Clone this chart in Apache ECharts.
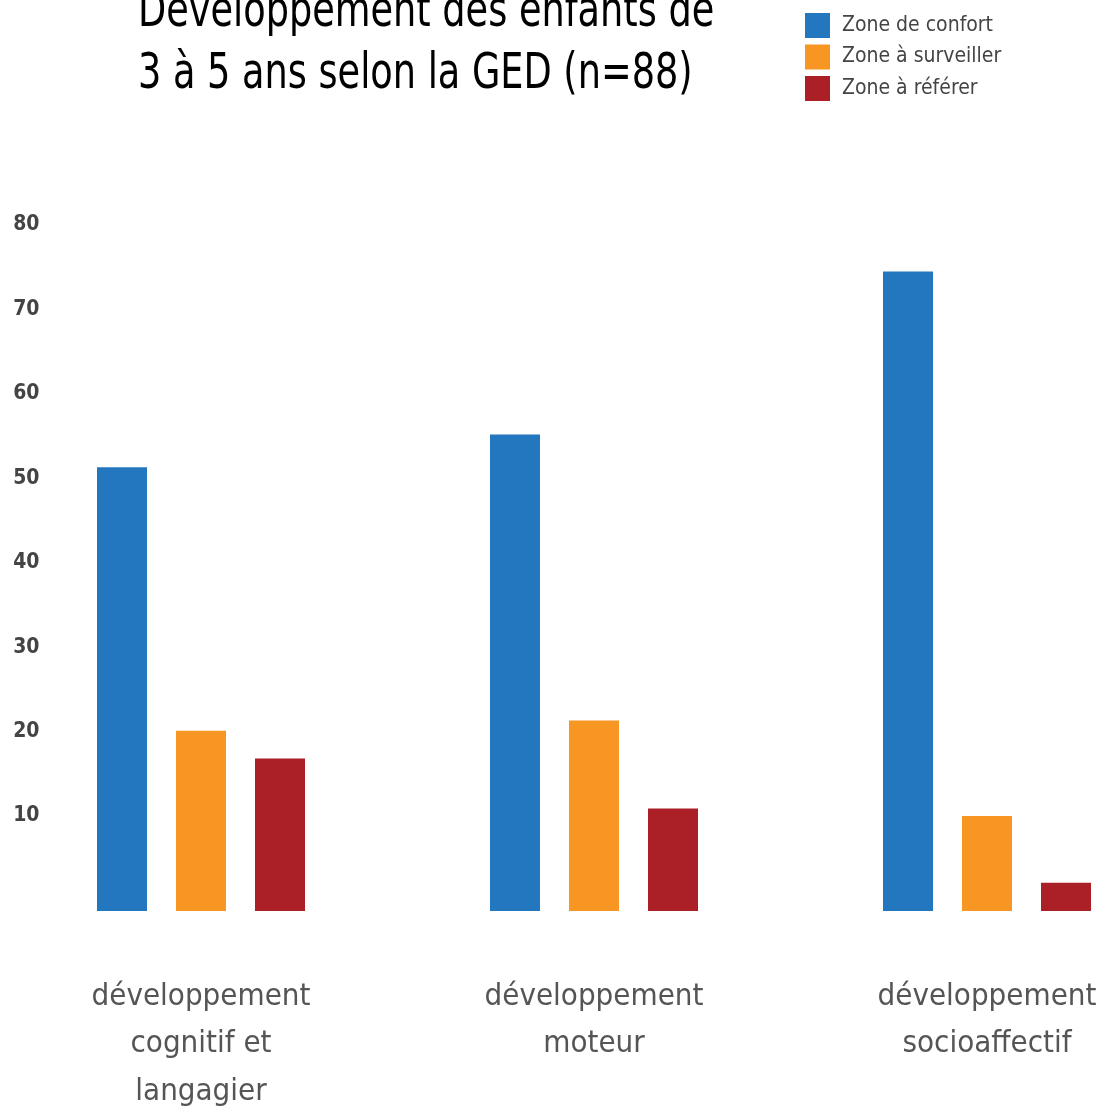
<!DOCTYPE html>
<html>
<head>
<meta charset="utf-8">
<style>html,body{margin:0;padding:0;background:#fff;}#c{width:1097px;height:1112px;}</style>
<script src="https://cdn.jsdelivr.net/npm/echarts@6/dist/echarts.min.js"></script>
</head>
<body>
<div id="c"></div>
<script>
const categories = ['développement\ncognitif et\nlangagier', 'développement\nmoteur', 'développement\nsocioaffectif'];
const seriesNames = ['Zone de confort', 'Zone à surveiller', 'Zone à référer'];
const confort = [51.3, 55.2, 74.5];
const surveiller = [20.1, 21.3, 10.0];
const referer = [16.8, 10.9, 2.1];
const yTicks = [10, 20, 30, 40, 50, 60, 70, 80];
const colors = ['#2277be', '#f79622', '#ab1f26'];
const titleText = 'Développement des enfants de\n3 à 5 ans selon la GED (n=88)';

const FONT = "'Liberation Sans Narrow', 'DejaVu Sans Condensed', sans-serif";
const chart = echarts.init(document.getElementById('c'), null, {renderer: 'canvas'});
const values = [confort, surveiller, referer];
chart.setOption({
  animation: false,
  backgroundColor: '#fff',
  graphic: [{
    type: 'text', left: 138, top: -18, scaleX: 0.815, scaleY: 1,
    style: {text: titleText, fontFamily: FONT, fontSize: 50, fontWeight: 500, fill: '#000', lineHeight: 62}
  }],
  legend: {
    orient: 'vertical', left: 805, top: 13, padding: 0,
    itemWidth: 25, itemHeight: 25, itemGap: 6.5,
    icon: 'rect',
    textStyle: {fontFamily: FONT, fontSize: 21, color: '#444', padding: [0, 0, 0, 7]},
    data: seriesNames
  },
  grid: {left: 4.5, width: 1179, top: 225, bottom: 201, outerBoundsMode: 'none', containLabel: false},
  xAxis: {
    type: 'category', data: categories,
    axisLine: {show: false}, axisTick: {show: false},
    axisLabel: {margin: 62, fontFamily: FONT, fontSize: 31, color: '#555', lineHeight: 47.5}
  },
  yAxis: {
    type: 'value', min: -1.25, max: 80, startValue: -1.25,
    axisLine: {show: false}, axisTick: {show: false}, splitLine: {show: false},
    axisLabel: {inside: true, align: 'right', margin: 35, customValues: yTicks,
      padding: [5, 0, 0, 0],
      fontFamily: FONT, fontSize: 21, fontWeight: 'bold', color: '#444'}
  },
  series: seriesNames.map((n, i) => ({
    name: n, type: 'bar', data: values[i], barWidth: 50, barGap: '58%',
    itemStyle: {color: colors[i]}
  }))
});
</script>
</body>
</html>
